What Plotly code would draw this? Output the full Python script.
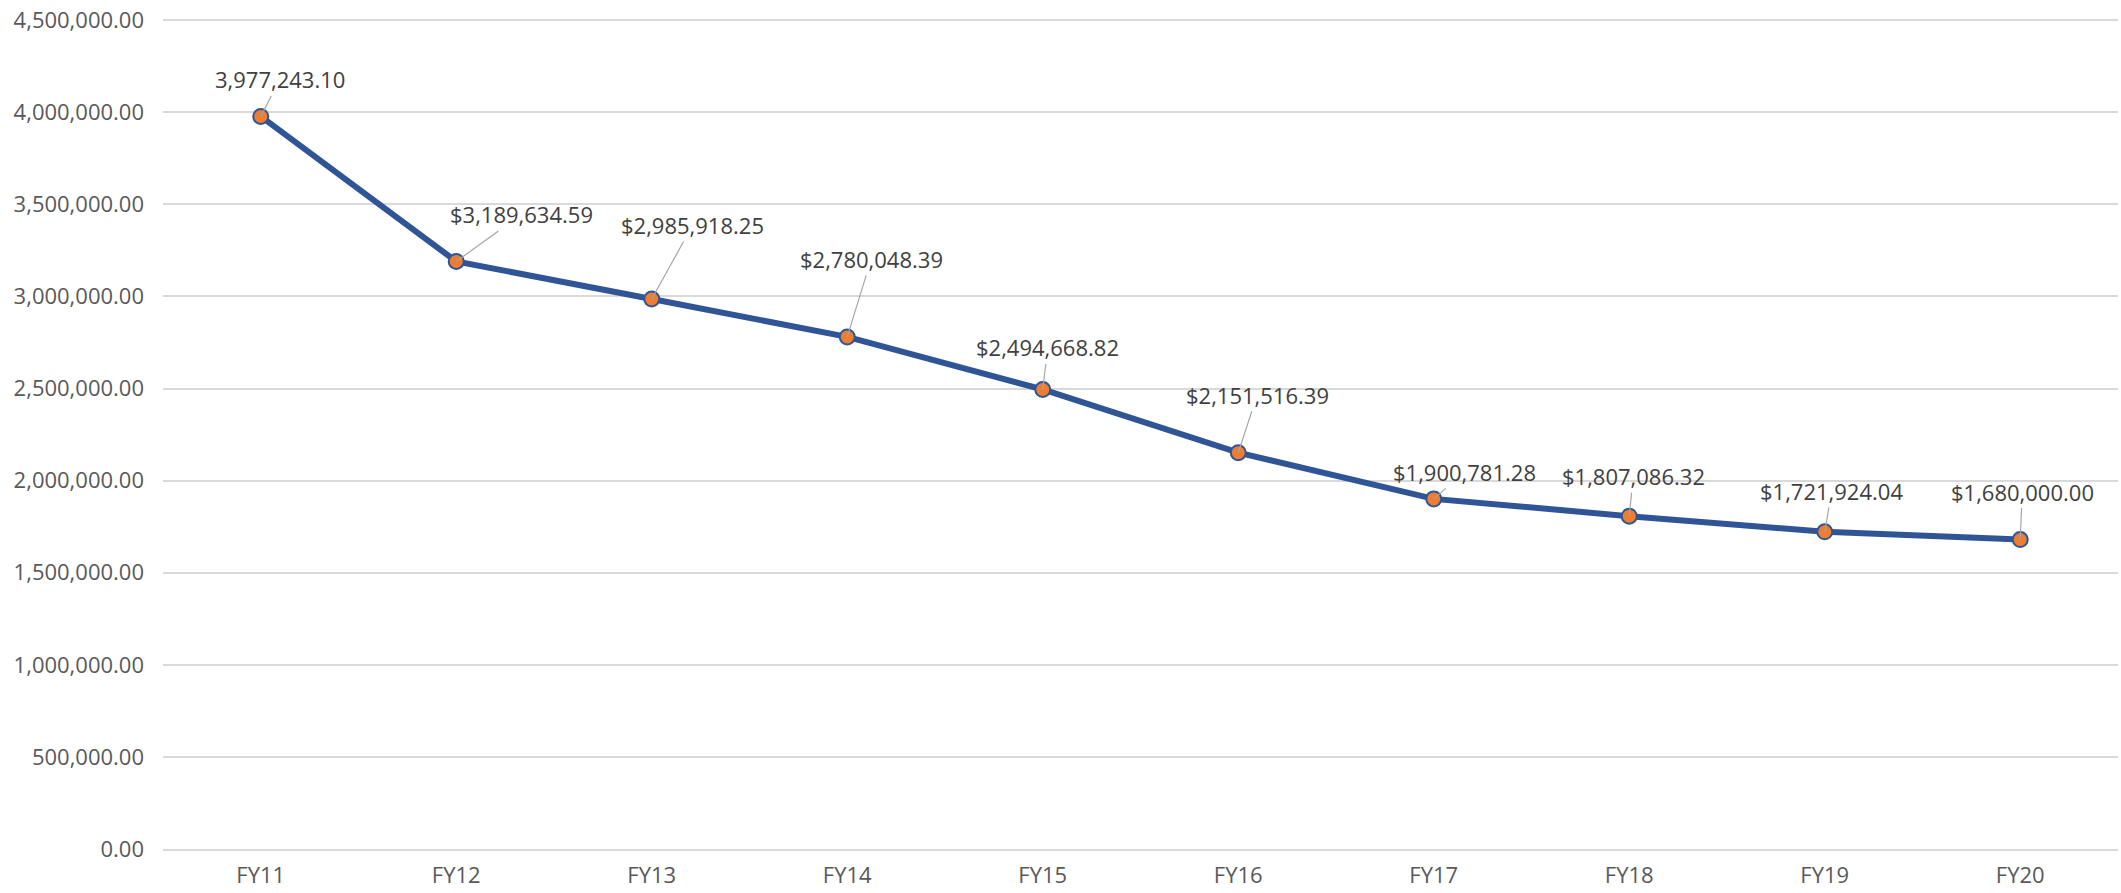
import plotly.graph_objects as go

categories = ["FY11", "FY12", "FY13", "FY14", "FY15", "FY16", "FY17", "FY18", "FY19", "FY20"]
values = [3977243.10, 3189634.59, 2985918.25, 2780048.39, 2494668.82,
          2151516.39, 1900781.28, 1807086.32, 1721924.04, 1680000.00]
label_prefix = ["", "$", "$", "$", "$", "$", "$", "$", "$", "$"]
y_ticks = [0, 500000, 1000000, 1500000, 2000000, 2500000, 3000000, 3500000, 4000000, 4500000]

# label offsets (pixels) relative to each marker
label_dx = [19, 65, 41, 24, 5, 19, 31, 4, 7, 2]
label_dy = [-37, -47, -74, -78, -42, -58, -27, -40, -41, -48]

FONT = "Open Sans"

fig = go.Figure()
fig.add_trace(go.Scatter(
    x=categories, y=values, mode="lines+markers",
    line=dict(color="#2F5597", width=6),
    marker=dict(size=15, color="#ED7D31", line=dict(color="#2F5597", width=2)),
    hoverinfo="x+y",
))

for c, v, p, dx, dy in zip(categories, values, label_prefix, label_dx, label_dy):
    fig.add_annotation(
        x=c, y=v, text=f"{p}{v:,.2f}",
        showarrow=True, arrowhead=0, arrowwidth=1.2, arrowcolor="#A6A6A6",
        ax=dx, ay=dy, standoff=0, startstandoff=0,
        font=dict(family=FONT, size=22, color="#404040"),
    )

fig.update_layout(
    width=2121, height=893,
    margin=dict(l=163, r=3, t=19, b=44, autoexpand=False),
    paper_bgcolor="white", plot_bgcolor="white",
    showlegend=False,
    font=dict(family=FONT, size=22, color="#595959"),
)
fig.update_xaxes(
    type="category", range=[-0.5, 9.5], automargin=False,
    showgrid=False, showline=True, linecolor="#D9D9D9", linewidth=1.5,
    ticks="", ticklabelstandoff=6,
    tickfont=dict(family=FONT, size=22, color="#595959"),
)
fig.update_yaxes(
    range=[0, 4506000], tickvals=y_ticks, tickformat=",.2f", automargin=False,
    showgrid=True, gridcolor="#D9D9D9", gridwidth=1.5,
    zeroline=False, showline=False, ticks="", ticklabelstandoff=18,
    tickfont=dict(family=FONT, size=22, color="#595959"),
)

fig.write_html(
    "out.html",
    config={"displayModeBar": False},
    post_script="document.body.style.margin='0';document.body.style.overflow='hidden';",
)
